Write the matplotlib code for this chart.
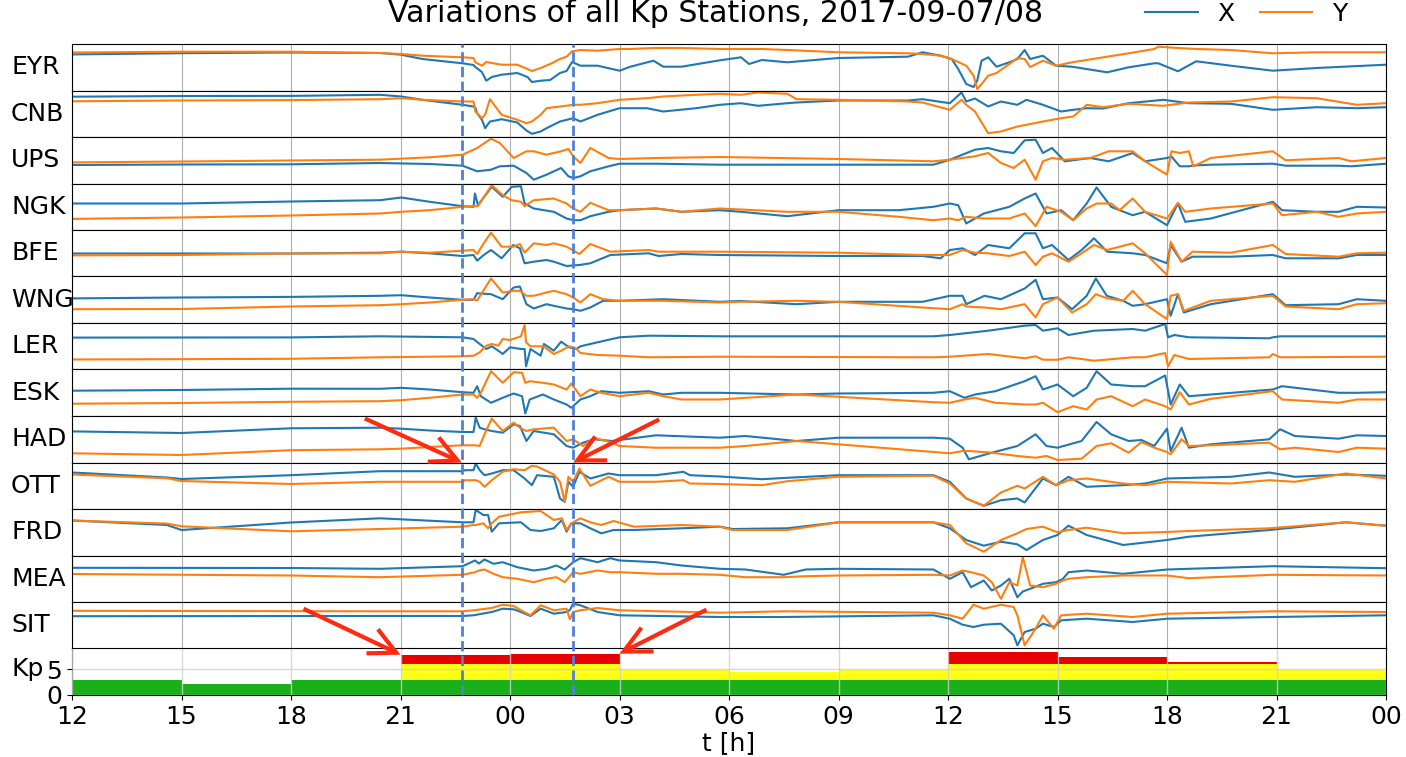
import matplotlib
matplotlib.use('Agg')
import matplotlib.pyplot as plt
import numpy as np
from matplotlib.lines import Line2D
from matplotlib import transforms

# ---------------- data (hours since 2017-09-07 12:00 UT; deflection below panel top) -------------
STATIONS = ['EYR', 'CNB', 'UPS', 'NGK', 'BFE', 'WNG', 'LER', 'ESK', 'HAD', 'OTT', 'FRD', 'MEA', 'SIT']

EYR_T = [0, 3, 6, 8.44, 9.02, 9.6, 10.7, 11.0, 11.05, 11.23, 11.35, 11.5, 11.77, 12.2, 12.48, 12.6, 12.84, 13.1, 13.37, 13.55, 13.7, 13.93, 14.4, 15.0, 15.3, 15.93, 16.2, 16.7, 17.75, 18.33, 18.55, 18.9, 19.6, 21, 22.9, 23.3, 23.8, 24.1, 24.28, 24.5, 24.7, 24.8, 24.92, 25.1, 25.33, 25.68, 25.9, 26.1, 26.25, 26.6, 26.96, 27.4, 28.36, 28.95, 29.65, 29.76, 30.3, 30.8, 31.75, 32.9, 34.1, 36]
EYR_X = [10.4, 9.2, 8.5, 9, 10.7, 15, 19.3, 21, 23, 28, 36.7, 33, 30.7, 29, 33, 38, 36.7, 36, 29, 27, 18, 21.7, 21.7, 26.7, 22.7, 16.7, 22.7, 22.7, 16.3, 13.3, 20, 16, 18.3, 14, 12.7, 8.3, 11.7, 15, 25, 40, 43, 36.7, 16.7, 13.3, 22.7, 18.3, 15, 6, 15, 11.7, 21.7, 22.7, 28.3, 23.3, 19.3, 19.3, 27.3, 17.3, 21.7, 26.7, 24, 20.7]
EYR_Y = [8.5, 7.7, 7.7, 9, 10, 11.7, 13.3, 14, 18.3, 21.7, 18, 19, 20.7, 20.7, 25, 27, 24, 20, 15, 12.7, 7.3, 6, 6.7, 5, 5, 4, 4, 4, 5, 5, 5, 5, 6, 8.3, 9.3, 10, 11.7, 15, 18, 21.7, 31.7, 45, 40, 31.7, 29, 20, 14, 15, 23, 16.7, 21.7, 18.3, 12.7, 9.3, 5, 2.7, 4, 5, 6, 9.3, 8.3, 8.3]

CNB_T = [0, 3, 6, 8.44, 9.02, 9.6, 10.7, 11.0, 11.05, 11.1, 11.23, 11.32, 11.45, 11.6, 11.77, 12.2, 12.45, 12.6, 12.84, 13.0, 13.37, 13.73, 13.93, 14.4, 15.0, 15.75, 16.2, 17.1, 17.75, 18.33, 18.8, 19.6, 19.85, 21, 22.9, 23.3, 24.05, 24.37, 24.5, 24.74, 25.1, 25.45, 25.9, 26.15, 26.6, 27.1, 27.43, 27.8, 28.25, 28.95, 29.9, 30.6, 31.75, 32.9, 34.1, 35.2, 36]
CNB_X = [6.2, 5.5, 5.4, 4.3, 6, 9.3, 14.3, 16, 17, 22.7, 29.3, 37.7, 31, 30, 28.7, 32, 40, 43.3, 41, 37.7, 31, 27.7, 31, 24.3, 17.7, 17.7, 21, 17.7, 14.3, 12.7, 15.3, 12.7, 12, 10, 10, 8.7, 12.7, 2, 11, 8, 16, 11, 14.3, 9.3, 14.3, 21, 19.3, 17.7, 18, 12.7, 9.3, 12.7, 13.3, 19.3, 16.7, 17.7, 16.7]
CNB_Y = [10.8, 10, 9.6, 8.7, 7.7, 9.3, 11, 11, 21, 22.7, 27.7, 24, 8.7, 16, 24.3, 29.3, 32.7, 31, 24.3, 17.7, 16, 14.3, 14.3, 12.7, 9.3, 7.7, 6, 4.3, 3.3, 4.3, 2, 3.3, 8.7, 9.3, 11, 12, 19.3, 9.3, 14.3, 21, 42.7, 41, 36, 34.3, 31, 27.7, 26, 14.3, 16.7, 13.3, 15.3, 12, 11, 6.7, 7.7, 14.3, 12.7]

UPS_T = [0, 3, 6, 8.44, 9.8, 10.7, 11.1, 11.48, 11.72, 12.1, 12.45, 12.65, 13.0, 13.4, 13.6, 13.73, 13.93, 14.2, 14.7, 15.0, 16.0, 17.75, 21, 23.6, 24.05, 24.74, 25.1, 25.45, 25.8, 26.1, 26.4, 26.6, 26.85, 27.2, 27.9, 28.4, 29.06, 29.4, 30.0, 30.12, 30.35, 30.6, 30.72, 31.2, 32.9, 33.25, 34.7, 35.05, 36]
UPS_X = [28, 27.5, 27.3, 26, 27, 28.7, 34.3, 32.7, 29.3, 28.7, 36, 42.7, 37.7, 31, 39.3, 41, 39.3, 34.3, 29.3, 26.7, 26.7, 27.7, 27.7, 27.7, 22.7, 12.7, 11, 14.3, 16, 3.3, 2.7, 16, 11, 24.3, 21, 24.3, 16, 24.3, 21, 19.5, 29.3, 29.3, 28.5, 27.7, 26.7, 28.7, 28.7, 29.3, 26.7]
UPS_Y = [25.4, 24.5, 23.5, 22.7, 20.3, 17.7, 11, 1.7, 6, 21, 14.3, 14.3, 17.7, 14.3, 12, 19.3, 26, 11, 21, 22, 21, 20, 22, 24.3, 22.7, 19.3, 16, 26, 31, 22.7, 42.7, 24.3, 21, 22.7, 21, 14.3, 14.3, 24.3, 37.7, 14.3, 16, 14.3, 29.3, 21, 14.3, 23.3, 21, 24.3, 21]

NGK_T = [0, 3, 6, 8.44, 9.02, 9.8, 10.7, 11.0, 11.04, 11.12, 11.5, 11.8, 12.05, 12.3, 12.4, 12.65, 13.2, 13.55, 13.73, 13.93, 14.2, 14.7, 15.0, 16.0, 16.7, 17.75, 18.33, 19.6, 21, 22.65, 23.6, 24.05, 24.28, 24.5, 24.98, 25.68, 26.1, 26.4, 26.7, 27.1, 27.43, 27.8, 28.07, 28.47, 28.7, 29.06, 29.4, 30.0, 30.3, 30.5, 31.2, 32.9, 33.15, 34.1, 34.7, 35.2, 36]
NGK_X = [20, 20, 18, 16.7, 14, 18.3, 22.7, 23.3, 10, 21.7, 3.3, 13.3, 3.3, 2.7, 20, 25, 28.3, 35, 36.7, 36.7, 32.7, 28.3, 26.7, 25, 28.3, 26.7, 28.3, 32.7, 26.7, 26.7, 23.3, 20, 21.7, 40, 30, 23.3, 15, 10, 30, 26.7, 36.7, 20, 4, 23.3, 26.7, 31.7, 28.3, 41.7, 20, 38.3, 35, 18.3, 26.7, 28.3, 28.3, 23.3, 24]
NGK_Y = [35.4, 34, 32, 30, 28.3, 26.7, 23.3, 22.7, 22.7, 22.7, 1.7, 11.7, 16.7, 18.3, 22.7, 16.7, 15, 20, 25, 28.3, 19.3, 26.7, 26.7, 25, 28.3, 25, 26, 28.3, 28.3, 33.3, 36.7, 35, 36.7, 33.3, 35, 35, 30, 42.7, 23.3, 28.3, 36.7, 25, 20, 20, 26.7, 15, 28.3, 35, 19.3, 28.3, 25, 20, 31.7, 28.3, 33.3, 30, 28.3]

BFE_T = [0, 3, 6, 8.44, 9.02, 9.8, 10.7, 11.0, 11.1, 11.28, 11.48, 11.77, 12.09, 12.27, 12.4, 12.65, 13.0, 13.2, 13.55, 13.9, 14.2, 14.75, 15.8, 16.07, 16.7, 17.75, 21, 23.3, 23.8, 24.05, 24.4, 24.74, 25.1, 25.68, 26.1, 26.4, 26.6, 26.85, 27.3, 27.66, 28.0, 28.36, 29.06, 29.4, 30.0, 30.1, 30.4, 30.7, 31.75, 32.9, 33.25, 34.7, 35.2, 36]
BFE_X = [23.5, 23.5, 23.5, 22.7, 21.7, 23.3, 26, 25, 30.7, 25, 20, 28.3, 15, 18.3, 33.3, 31.7, 30, 31.7, 36, 35, 33.3, 25, 23.3, 26, 24, 25, 26, 26, 28.3, 20, 18.3, 25, 15, 18.3, 3.3, 3.3, 18.3, 15, 30, 20, 8.3, 21.7, 23.3, 25, 33.3, 15, 31.7, 26.7, 26.7, 25, 28.3, 28.3, 25, 25]
BFE_Y = [25.4, 25, 23.5, 23.3, 21.7, 22.7, 20.7, 20, 24, 13.3, 2.7, 16.7, 16.7, 14, 22.7, 13.3, 15, 13.3, 16.7, 24, 14, 21.7, 20, 21.7, 21.7, 21.7, 22.7, 25, 25, 25, 20, 22.7, 23.3, 26, 21.7, 35, 26.7, 23.3, 31.7, 23.3, 15, 20, 13.3, 23.3, 45, 11.7, 31.7, 21.7, 22.7, 15, 24, 26.7, 23.3, 22.7]

WNG_T = [0, 3, 6, 8.44, 9.02, 9.8, 10.7, 11.0, 11.1, 11.48, 11.8, 12.1, 12.27, 12.45, 12.65, 13.0, 13.2, 13.55, 13.73, 13.93, 14.2, 14.55, 15.0, 16.2, 17.75, 18.3, 19.85, 21, 23.3, 24.05, 24.4, 24.5, 25.0, 25.45, 26.1, 26.4, 26.6, 27.0, 27.4, 27.8, 28.05, 28.35, 28.8, 29.06, 29.4, 30.0, 30.1, 30.3, 30.46, 31.2, 32.9, 33.25, 34.7, 35.2, 36]
WNG_X = [21.9, 21, 20.4, 19.3, 18.7, 21, 23.3, 23.3, 16.7, 17.7, 22.7, 11, 10, 27.7, 32, 27.7, 29.3, 32, 32.7, 34.3, 31, 24.3, 24.3, 22.7, 25.3, 24.5, 27.7, 25.3, 25.3, 19.3, 19.3, 27.7, 19.3, 22.7, 12, 3.3, 22.7, 21, 32.7, 19.3, 2, 19.3, 24.3, 29.3, 27.7, 22.7, 39.3, 17.7, 36, 27.7, 17.7, 28.7, 27.7, 22.7, 24.3]
WNG_Y = [32.7, 32.5, 30, 28.7, 27.7, 26, 23.3, 22.7, 24, 2, 16, 14.3, 14.3, 19.3, 19.3, 16, 14.3, 17.7, 21, 26, 17.7, 22.7, 24.3, 24.3, 26, 25.3, 24.3, 25.3, 31, 32.7, 27.7, 30, 31, 32.7, 27.7, 41, 27.7, 21, 36, 27.7, 17.7, 21.7, 24.3, 14.3, 27.7, 42.7, 19.3, 17.7, 34.3, 24.3, 19.3, 30, 32.7, 27.7, 26.7]

LER_T = [0, 6, 8.44, 10.7, 11.0, 11.17, 11.35, 11.5, 11.68, 11.8, 12.0, 12.3, 12.4, 12.44, 12.56, 12.84, 12.93, 13.2, 13.4, 13.62, 13.82, 13.93, 14.4, 15.0, 15.8, 17.75, 23.6, 24.05, 25.1, 26.1, 26.4, 26.6, 27.0, 27.3, 28.0, 29.06, 29.4, 29.95, 30.03, 30.2, 30.6, 32.8, 32.9, 33.1, 36]
LER_X = [14.6, 14.4, 13.3, 14.3, 16, 21, 26, 23.3, 27.7, 31, 24.3, 26, 26, 43.3, 26, 32.7, 21, 27.7, 18.7, 24.3, 26, 23.3, 19.3, 14.3, 12.7, 13.3, 13.3, 12, 7.7, 2.7, 2, 7.7, 5.3, 12, 7.7, 6, 7.7, 1, 14.3, 12, 14.3, 15.3, 14.3, 13.3, 13.3]
LER_Y = [36.5, 35.8, 34.3, 33.3, 32.7, 29.3, 22.7, 21, 22.7, 16, 17, 13.3, 2, 19.3, 23.3, 23.3, 23.7, 31, 27.7, 23.3, 26, 30, 32, 32.7, 34.3, 33.7, 34.3, 33.7, 31, 35.3, 33.3, 36.7, 36.7, 34.3, 37.7, 34.3, 34.3, 30, 43.3, 32, 36, 34.3, 31, 34.3, 33.7]

ESK_T = [0, 3, 6, 8.44, 9.02, 9.8, 10.7, 11.0, 11.1, 11.2, 11.48, 11.8, 12.1, 12.33, 12.42, 12.54, 12.9, 13.2, 13.55, 13.68, 13.93, 14.2, 14.5, 15.0, 15.8, 16.2, 16.7, 17.75, 19.85, 21, 23.6, 24.05, 24.45, 24.74, 25.3, 26.1, 26.4, 26.6, 27.0, 27.43, 27.8, 28.07, 28.47, 29.06, 29.4, 29.95, 30.1, 30.35, 30.6, 31.2, 32.9, 33.15, 34.7, 35.2, 36]
ESK_X = [21.2, 20.5, 19.2, 19.3, 18.3, 20, 22.7, 23.3, 16.7, 26.7, 33.3, 28.3, 24, 26.7, 44, 30, 25, 30, 35, 38.3, 30, 26.7, 21.7, 23.3, 21.7, 25, 23.3, 23.3, 25, 24, 23.3, 21.7, 28.3, 25, 21.7, 11.7, 6.7, 20, 15, 26.7, 18.3, 1.7, 15, 16.7, 16.7, 6, 35, 15, 26.7, 25, 20, 16.7, 23.3, 23.3, 22.7]
ESK_Y = [34.2, 33.5, 32.3, 31.7, 30.7, 28.3, 25, 25, 28.3, 23.3, 1.7, 13.3, 2.7, 3.3, 13.3, 11.7, 13.3, 15, 20, 14, 26.7, 20, 23.3, 26.7, 23.3, 26.7, 30, 30, 25, 27.3, 32.7, 33.3, 30, 28.3, 33.3, 35, 35, 33.3, 42.7, 36.7, 40, 30, 26.7, 36.7, 30, 36.7, 40, 22.7, 35, 29.3, 21.7, 30, 33.3, 30, 30]

HAD_T = [0, 3, 6, 8.44, 9.02, 9.8, 10.7, 11.0, 11.06, 11.17, 11.3, 11.5, 11.8, 12.1, 12.27, 12.45, 12.65, 13.2, 13.55, 13.73, 14.0, 14.3, 14.8, 15.0, 16.0, 17.75, 18.45, 19.85, 21, 23.6, 24.05, 24.4, 24.57, 25.2, 25.9, 26.4, 26.7, 27.0, 27.66, 28.07, 28.47, 28.95, 29.3, 29.65, 30.0, 30.1, 30.4, 30.6, 31.2, 32.8, 33.1, 33.5, 34.7, 35.2, 36]
HAD_X = [15.4, 17, 12.3, 11.7, 12.7, 14.5, 16, 16, 1.7, 11.7, 13.3, 15, 16.7, 8.3, 10, 25, 15, 18.3, 30, 31.7, 26.7, 23.3, 25, 24, 19.3, 21.7, 20, 25, 21.7, 21.7, 22.7, 31.7, 43.3, 36.7, 30, 18.3, 30, 31.7, 25, 6, 18.3, 25, 24, 30, 12.7, 35, 11.7, 31.7, 28.3, 23.3, 13.3, 20, 22.7, 19.3, 20]
HAD_Y = [37.3, 39, 34.2, 33.3, 32.7, 31, 29.3, 29.3, 29.3, 30, 18.3, 2.7, 15, 6.7, 11.7, 15, 13.3, 11.7, 25, 23.3, 30, 21.7, 26.7, 30, 31.7, 31.7, 30, 25, 28.3, 36, 37.3, 35, 35, 36.7, 40, 41.7, 40, 44, 42.7, 30, 27.3, 36.7, 26, 31.7, 36, 38.3, 23.3, 30, 29.3, 26.7, 33.3, 31.7, 36, 31.7, 32.7]

OTT_T = [0, 2.6, 3, 6, 8.44, 10.7, 10.77, 11.0, 11.06, 11.17, 11.3, 11.5, 11.8, 12.1, 12.4, 12.6, 12.74, 13.2, 13.37, 13.5, 13.6, 13.73, 13.9, 14.2, 14.7, 15.0, 16.0, 16.75, 16.93, 17.75, 18.9, 19.6, 21, 23.6, 24.05, 24.5, 24.98, 25.45, 25.9, 26.1, 26.6, 26.96, 27.3, 27.8, 28.8, 29.4, 30.0, 31.75, 32.8, 33.5, 34.9, 36]
OTT_X = [10, 15, 16.5, 12.7, 8.7, 8.7, 7.7, 7.7, 1, 7.7, 12.7, 11, 7.7, 7.7, 16, 22.7, 12.7, 14.3, 36, 39.3, 19.3, 24.3, 9.3, 16, 11, 12.7, 12.7, 9.3, 12.7, 14, 16.7, 15.3, 12.7, 12.7, 19.3, 36, 43.3, 37.7, 36, 40, 16, 22.7, 14.3, 24.3, 22.7, 21, 16, 14.3, 10, 14.3, 12, 13.3]
OTT_Y = [12, 15.8, 18.5, 21.5, 19.3, 19.3, 17.7, 17.7, 17.7, 19.3, 24.3, 17.7, 9.3, 6.7, 7.7, 3.3, 4, 12, 19.3, 39.3, 14.3, 19.3, 6, 23.3, 14.3, 19.3, 19.3, 17.7, 21, 21.5, 22.7, 18.7, 14.3, 13.3, 21, 36, 43.3, 30, 23.3, 26, 14.3, 22.7, 17.7, 16, 21, 22.7, 19.3, 21, 17.7, 19.3, 11, 16]

FRD_T = [0, 2.6, 3, 6, 8.44, 10.7, 11.0, 11.06, 11.27, 11.4, 11.5, 11.7, 12.3, 12.56, 12.84, 13.2, 13.42, 13.55, 13.68, 13.93, 14.2, 14.5, 14.84, 15.4, 16.7, 17.75, 18.1, 19.6, 21, 23.6, 24.05, 24.5, 24.98, 25.45, 25.9, 26.15, 26.6, 27.0, 27.3, 27.8, 28.8, 30.0, 30.6, 32.8, 34.9, 36]
FRD_X = [11.5, 16, 21, 13.5, 9.3, 13.3, 13.3, 1, 6, 6, 22.7, 14.3, 13.3, 21, 22, 19.3, 11, 22.7, 14.3, 14.3, 19.3, 24.3, 21, 21, 19.3, 17.7, 20, 19.3, 13.3, 13.3, 19.3, 31, 36.7, 32.7, 35.3, 41, 31, 26, 16.7, 26, 36, 31, 27.7, 21, 13.3, 16.7]
FRD_Y = [11.5, 14.6, 17.3, 22.3, 20, 17.7, 16, 16, 14.3, 19.3, 14.3, 7.7, 3.3, 2.7, 2, 11, 9.3, 21, 14.3, 9.3, 13.3, 16, 12, 17.7, 16, 17.7, 21, 21, 13.3, 13.3, 16, 34.3, 42.7, 31, 24.3, 20, 17.7, 23.3, 21, 18.7, 24.3, 23, 22, 19.3, 13.3, 16.7]

MEA_T = [0, 6, 8.44, 10.7, 11.04, 11.15, 11.3, 11.55, 11.8, 12.2, 12.65, 13.0, 13.27, 13.5, 13.73, 13.93, 14.4, 14.75, 15.0, 16.0, 16.7, 17.75, 18.45, 19.5, 20.1, 21, 23.6, 24.05, 24.4, 24.63, 24.98, 25.2, 25.45, 25.68, 25.9, 26.05, 26.25, 26.6, 26.96, 27.15, 27.3, 27.8, 28.8, 30.0, 30.6, 32.9, 36]
MEA_X = [12.3, 12.5, 13.3, 10.7, 5, 8, 4, 8.3, 6.7, 11.7, 15, 13.3, 10, 14, 6.7, 2.7, 6.7, 2.7, 5, 6.7, 10, 13.3, 14, 19.3, 14, 13.3, 14, 23.3, 16.7, 31.7, 25, 35, 30, 23.3, 41.7, 36, 33.3, 28.3, 26.7, 23.3, 16.7, 15, 18.3, 14, 13.3, 10.7, 12.7]
MEA_Y = [18.5, 20, 21.7, 19.3, 16.7, 15, 14, 18.3, 21.7, 23.3, 26.7, 23.3, 21.7, 26.7, 16.7, 18.3, 15, 16.7, 16.7, 18.3, 18.3, 19.3, 21.7, 21.7, 20.7, 20, 19.3, 20, 15, 16.7, 20, 26.7, 43.3, 26.7, 30, 1.7, 30, 31.7, 28.3, 25, 23.3, 21.7, 20, 20, 22.7, 19.3, 20]

SIT_T = [0, 8.44, 10.7, 11.0, 11.5, 11.8, 12.1, 12.3, 12.56, 12.84, 13.2, 13.55, 13.64, 13.73, 13.93, 14.4, 15.0, 17.75, 19.5, 23.6, 24.05, 24.4, 24.7, 24.98, 25.45, 25.8, 25.9, 26.1, 26.4, 26.6, 26.9, 27.1, 27.8, 29.06, 30.0, 32.9, 36]
SIT_X = [14.2, 14, 14, 13.3, 10, 6.7, 7.3, 10, 14, 6.7, 11.7, 10, 8, 1.7, 3.3, 10, 13.3, 15, 15, 13.3, 16.7, 22.7, 25, 22.7, 21.7, 33.3, 43.3, 30, 26.7, 21.7, 25, 18.3, 16.7, 20, 16.7, 15, 13.3]
SIT_Y = [8.8, 9.3, 9.3, 8.3, 6, 2.7, 4, 8.3, 13.3, 3.3, 8.3, 6.7, 17.3, 10, 8.3, 6, 8.3, 10.7, 9.3, 10.7, 13.3, 16.7, 2.7, 6.7, 2.7, 5, 13.3, 43.3, 26.7, 13.3, 26.7, 13.3, 11.7, 15, 11.7, 9.3, 10]

# Kp index, 3-hour intervals starting at the given hour offset
KP_START = [0, 3, 6, 9, 12, 15, 18, 21, 24, 27, 30, 33]
KP_VALUE = [2.85, 2.1, 2.85, 7.8, 8.0, 4.75, 4.45, 4.75, 8.4, 7.33, 6.35, 4.75]

# vertical markers (storm onsets)
MARK_T = [10.68, 13.73]

XTICK_POS = list(range(0, 37, 3))
XTICK_LAB = ['12', '15', '18', '21', '00', '03', '06', '09', '12', '15', '18', '21', '00']

SERIES = {
    'EYR': (EYR_T, EYR_X, EYR_Y), 'CNB': (CNB_T, CNB_X, CNB_Y), 'UPS': (UPS_T, UPS_X, UPS_Y),
    'NGK': (NGK_T, NGK_X, NGK_Y), 'BFE': (BFE_T, BFE_X, BFE_Y), 'WNG': (WNG_T, WNG_X, WNG_Y),
    'LER': (LER_T, LER_X, LER_Y), 'ESK': (ESK_T, ESK_X, ESK_Y), 'HAD': (HAD_T, HAD_X, HAD_Y),
    'OTT': (OTT_T, OTT_X, OTT_Y), 'FRD': (FRD_T, FRD_X, FRD_Y), 'MEA': (MEA_T, MEA_X, MEA_Y),
    'SIT': (SIT_T, SIT_X, SIT_Y),
}

# ---------------- figure -------------
W, H = 1406, 757
FS = 18
plt.rcParams['font.family'] = 'DejaVu Sans'
fig = plt.figure(figsize=(W / 100, H / 100), dpi=100)
gs = fig.add_gridspec(14, 1, left=72 / W, right=1386 / W, top=1 - 44 / H, bottom=1 - 695 / H, hspace=0)
axes = [fig.add_subplot(gs[i]) for i in range(14)]

BLUE = '#1f77b4'
ORANGE = '#ff7f0e'
LABEL_X = (11 - 72) / 1314

for i, st in enumerate(STATIONS):
    ax = axes[i]
    T, X, Y = SERIES[st]
    n = min(len(T), len(X), len(Y))
    ax.plot(T[:n], X[:n], color=BLUE, lw=1.5)
    ax.plot(T[:n], Y[:n], color=ORANGE, lw=1.5)
    ax.set_xlim(0, 36)
    ax.set_ylim(46.5, 0)
    ax.set_xticks(XTICK_POS)
    ax.tick_params(axis='x', length=0, labelbottom=False)
    ax.set_yticks([])
    ax.grid(axis='x', color='#b0b0b0', lw=0.8)
    ax.set_ylabel(st, rotation=0, ha='left', va='center', fontsize=FS)
    ax.yaxis.set_label_coords(LABEL_X, 0.5)

# Kp panel
axk = axes[13]
kp = np.array(KP_VALUE)
green = np.minimum(kp, 3)
yellow = np.clip(kp - 3, 0, 3)
red = np.clip(kp - 6, 0, None)
axk.bar(KP_START, green, width=3, align='edge', color='#19b019', lw=0)
axk.bar(KP_START, yellow, bottom=3, width=3, align='edge', color='#ffff14', lw=0)
axk.bar(KP_START, red, bottom=6, width=3, align='edge', color='#e60000', lw=0)
axk.set_xlim(0, 36)
axk.set_ylim(0, 9)
axk.set_yticks([0, 5])
axk.set_xticks(XTICK_POS)
axk.set_xticklabels(XTICK_LAB)
axk.tick_params(labelsize=FS)
axk.set_axisbelow(False)
axk.grid(True, color='#cfcfcf', lw=1.0, alpha=0.8)
axk.set_ylabel('Kp', rotation=0, ha='left', va='center', fontsize=FS)
axk.yaxis.set_label_coords(LABEL_X, 5 / 9)
axk.set_xlabel('t [h]', fontsize=FS, labelpad=2)

# dashed markers spanning all panels
tr = transforms.blended_transform_factory(axes[0].transData, fig.transFigure)
for mt in MARK_T:
    fig.add_artist(Line2D([mt, mt], [1 - 695 / H, 1 - 44 / H], transform=tr,
                          color='#4f80d6', lw=2, ls='--'))

# red arrows
arrow_kw = dict(arrowstyle='->,head_length=0.4,head_width=0.2', color='#ff2a10', lw=3,
                mutation_scale=48, shrinkA=0, shrinkB=0, joinstyle='miter', capstyle='butt')
axo = axes[9]
axo.annotate('', xy=(MARK_T[0], 0), xycoords='data', xytext=(-97, 44), textcoords='offset pixels',
             arrowprops=arrow_kw, annotation_clip=False)
axo.annotate('', xy=(MARK_T[1], 0), xycoords='data', xytext=(86, 43), textcoords='offset pixels',
             arrowprops=arrow_kw, annotation_clip=False)
axk.annotate('', xy=(9, KP_VALUE[3]), xycoords='data', xytext=(-97, 46), textcoords='offset pixels',
             arrowprops=arrow_kw, annotation_clip=False)
axk.annotate('', xy=(15, KP_VALUE[4]), xycoords='data', xytext=(87, 44), textcoords='offset pixels',
             arrowprops=arrow_kw, annotation_clip=False)

# title and legend
fig.text(715 / W, 1 - 22 / H, 'Variations of all Kp Stations, 2017-09-07/08', ha='center', va='baseline',
         fontsize=FS * 1.2)
handles = [Line2D([], [], color=BLUE, lw=1.5), Line2D([], [], color=ORANGE, lw=1.5)]
fig.legend(handles, ['X', 'Y'], loc='center left', bbox_to_anchor=(1145 / W, 1 - 14 / H), ncol=2,
           frameon=False, fontsize=FS, handlelength=2.1, handletextpad=0.8, columnspacing=1.0,
           borderpad=0, borderaxespad=0)

fig.savefig('out.png', dpi=100)
